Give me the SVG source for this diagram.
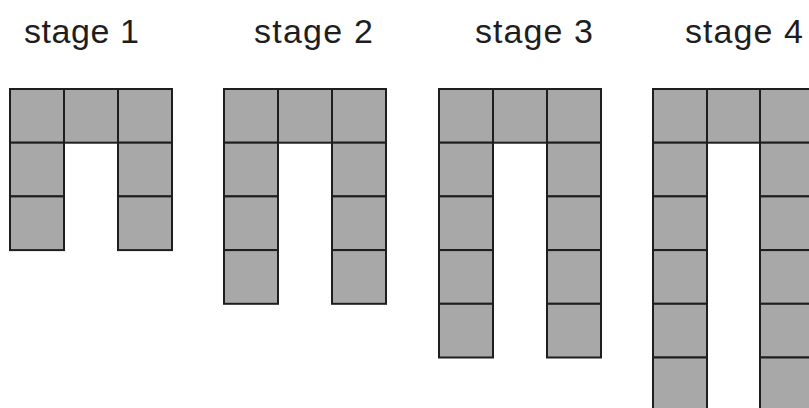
<svg xmlns="http://www.w3.org/2000/svg" xmlns:xlink="http://www.w3.org/1999/xlink" width="809" height="408" viewBox="0 0 809 408">
  <style>
    .label { font-family: "Liberation Sans", Arial, sans-serif; font-size: 34px; fill: #1e1e1e; }
    .tile { fill: #a8a8a8; stroke: #1e1e1e; stroke-width: 2; }
  </style>
  <defs>
    <!-- one square tile, 54 x 53.7 -->
    <rect id="tile" class="tile" width="54" height="53.7"/>
  </defs>
  <rect width="809" height="408" fill="#ffffff"/>

  <!-- stage 1: top row of three, legs two tiles long -->
  <g id="stage1" transform="translate(10,89)">
    <text class="label" x="14" y="-46" textLength="115" lengthAdjust="spacing">stage 1</text>
    <use xlink:href="#tile" x="0" y="0"/>
    <use xlink:href="#tile" x="54" y="0"/>
    <use xlink:href="#tile" x="108" y="0"/>
    <use xlink:href="#tile" x="0" y="53.7"/>
    <use xlink:href="#tile" x="108" y="53.7"/>
    <use xlink:href="#tile" x="0" y="107.4"/>
    <use xlink:href="#tile" x="108" y="107.4"/>
  </g>

  <!-- stage 2: legs three tiles long -->
  <g id="stage2" transform="translate(224,89)">
    <text class="label" x="30" y="-46" textLength="119" lengthAdjust="spacing">stage 2</text>
    <use xlink:href="#tile" x="0" y="0"/>
    <use xlink:href="#tile" x="54" y="0"/>
    <use xlink:href="#tile" x="108" y="0"/>
    <use xlink:href="#tile" x="0" y="53.7"/>
    <use xlink:href="#tile" x="108" y="53.7"/>
    <use xlink:href="#tile" x="0" y="107.4"/>
    <use xlink:href="#tile" x="108" y="107.4"/>
    <use xlink:href="#tile" x="0" y="161.1"/>
    <use xlink:href="#tile" x="108" y="161.1"/>
  </g>

  <!-- stage 3: legs four tiles long -->
  <g id="stage3" transform="translate(439,89)">
    <text class="label" x="36" y="-46" textLength="118" lengthAdjust="spacing">stage 3</text>
    <use xlink:href="#tile" x="0" y="0"/>
    <use xlink:href="#tile" x="54" y="0"/>
    <use xlink:href="#tile" x="108" y="0"/>
    <use xlink:href="#tile" x="0" y="53.7"/>
    <use xlink:href="#tile" x="108" y="53.7"/>
    <use xlink:href="#tile" x="0" y="107.4"/>
    <use xlink:href="#tile" x="108" y="107.4"/>
    <use xlink:href="#tile" x="0" y="161.1"/>
    <use xlink:href="#tile" x="108" y="161.1"/>
    <use xlink:href="#tile" x="0" y="214.8"/>
    <use xlink:href="#tile" x="108" y="214.8"/>
  </g>

  <!-- stage 4: legs five tiles long, runs past the frame -->
  <g id="stage4" transform="translate(653,89)">
    <text class="label" x="32" y="-46" textLength="118" lengthAdjust="spacing">stage 4</text>
    <use xlink:href="#tile" x="0" y="0"/>
    <use xlink:href="#tile" x="54" y="0"/>
    <use xlink:href="#tile" x="107" y="0"/>
    <use xlink:href="#tile" x="0" y="53.7"/>
    <use xlink:href="#tile" x="107" y="53.7"/>
    <use xlink:href="#tile" x="0" y="107.4"/>
    <use xlink:href="#tile" x="107" y="107.4"/>
    <use xlink:href="#tile" x="0" y="161.1"/>
    <use xlink:href="#tile" x="107" y="161.1"/>
    <use xlink:href="#tile" x="0" y="214.8"/>
    <use xlink:href="#tile" x="107" y="214.8"/>
    <use xlink:href="#tile" x="0" y="268.5"/>
    <use xlink:href="#tile" x="107" y="268.5"/>
  </g>
</svg>
